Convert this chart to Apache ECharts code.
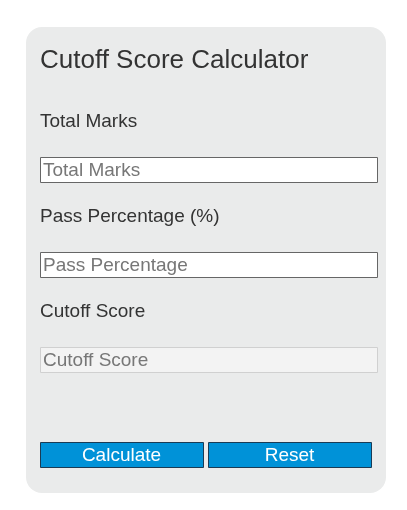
<!DOCTYPE html>
<html><head><meta charset="utf-8">
<script src="https://cdn.jsdelivr.net/npm/echarts@6/dist/echarts.min.js"></script>
<style>html,body{margin:0;padding:0;background:#fff}#c{width:407px;height:510px}</style>
</head><body><div id="c"></div>
<script>
const title = "Cutoff Score Calculator";
const labels = ["Total Marks", "Pass Percentage (%)", "Cutoff Score"];
const placeholders = ["Total Marks", "Pass Percentage", "Cutoff Score"];
const buttons = ["Calculate", "Reset"];
const font = "Arial, 'Liberation Sans', sans-serif";
const els = [];
els.push({type:'rect', shape:{x:26,y:27,width:360,height:466,r:16}, style:{fill:'#eaebeb'}});
els.push({type:'text', x:40, y:61, style:{text:title, font:'26px '+font, fill:'#333', verticalAlign:'middle'}});
const labelY = [122, 217, 312], boxY = [157, 252, 347];
labels.forEach((l,i)=>{
  els.push({type:'text', x:40, y:labelY[i], style:{text:l, font:'19px '+font, fill:'#333', verticalAlign:'middle'}});
  const dis = i===2;
  els.push({type:'rect', shape:{x:40.5,y:boxY[i]+0.5,width:337,height:25}, style:{fill:dis?'#f3f3f3':'#fff', stroke:dis?'#d0d0d0':'#666', lineWidth:1}});
  els.push({type:'text', x:43, y:boxY[i]+13.5, style:{text:placeholders[i], font:'19px '+font, fill:'#777', verticalAlign:'middle'}});
});
const bx = [40, 208], bw = [163, 163];
buttons.forEach((b,i)=>{
  els.push({type:'rect', shape:{x:bx[i]+0.5,y:442.5,width:bw[i],height:25}, style:{fill:'#0092d8', stroke:'#1a3b55', lineWidth:1}});
  els.push({type:'text', x:bx[i]+bw[i]/2, y:455.5, style:{text:b, font:'19px '+font, fill:'#fff', align:'center', verticalAlign:'middle'}});
});
const chart = echarts.init(document.getElementById('c'));
chart.setOption({graphic:{elements:els}});
</script></body></html>
